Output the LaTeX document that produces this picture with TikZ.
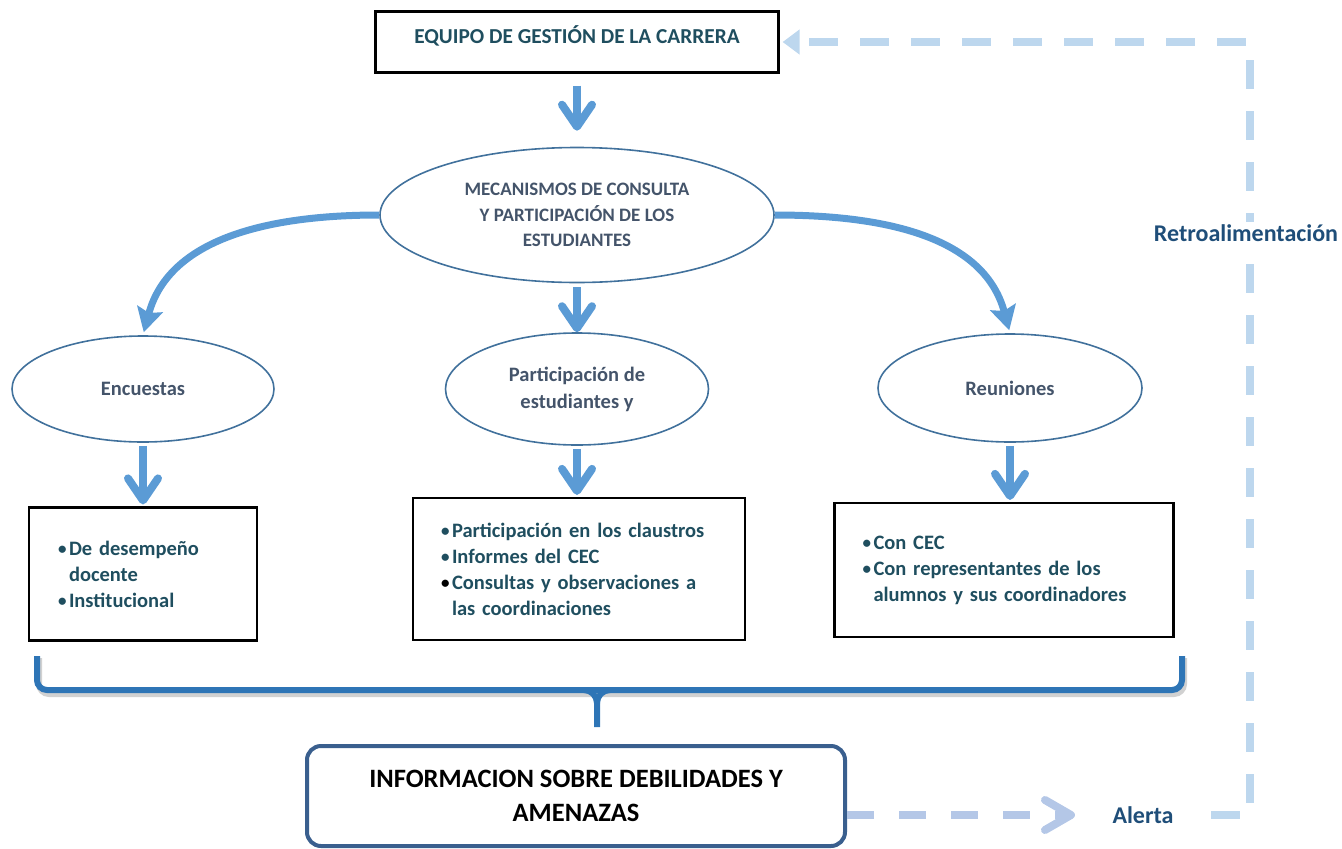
\documentclass[tikz,border=0pt]{standalone}
\usepackage{fontspec}
\setmainfont{Carlito}
\usetikzlibrary{arrows.meta,shapes.geometric}

\definecolor{flecha}{HTML}{5B9BD5}
\definecolor{borde}{HTML}{41719C}
\definecolor{llave}{HTML}{2E75B6}
\definecolor{marco}{HTML}{3A5F8E}
\definecolor{retro}{HTML}{BDD7EE}
\definecolor{aviso}{HTML}{B4C7E7}
\definecolor{tgris}{HTML}{44546A}
\definecolor{tverde}{HTML}{1F4E5F}
\definecolor{tazul}{HTML}{1F4E79}

\newcommand{\bul}{\makebox[9pt][l]{\hspace*{-2pt}\raisebox{0.8pt}{\fontsize{17}{17}\selectfont\textbullet}}}
\newcommand{\sangria}{\hspace*{9pt}}

\begin{document}
\begin{tikzpicture}[x=1pt,y=-1pt,
  caja/.style={draw, line width=2.2pt, text=tverde, align=left, font=\bfseries\fontsize{20.5}{26}\selectfont},
  elipse/.style={ellipse, draw=borde, line width=1.6pt, text=tgris, align=center, font=\bfseries\fontsize{20.5}{27}\selectfont},
  bajar/.style={draw=flecha, line width=8pt, -{Straight Barb[length=22pt,width=30pt,round]}},
  curva/.style={draw=flecha, line width=7pt, -{Stealth[length=24pt,width=26pt,inset=4pt]}},
  punteada/.style={draw=retro, line width=8pt, dash pattern=on 29pt off 22pt},
  etiqueta/.style={text=tazul, font=\bfseries\fontsize{24}{26}\selectfont}
]
\useasboundingbox (0,0) rectangle (1342,849);

\node[draw, line width=2.2pt, minimum width=403pt, minimum height=61pt, text depth=14pt,
  text=tverde, font=\bfseries\fontsize{21.3}{24}\selectfont] (gestion) at (577,42) {EQUIPO DE GESTIÓN DE LA CARRERA};

\node[elipse, minimum width=394pt, minimum height=135pt, font=\bfseries\fontsize{19}{25.5}\selectfont]
  (mecanismos) at (577,215) {MECANISMOS DE CONSULTA\\Y PARTICIPACIÓN DE LOS\\ESTUDIANTES};

\node[elipse, minimum width=262pt, minimum height=106pt] (encuestas) at (143,389) {Encuestas};
\node[elipse, minimum width=263pt, minimum height=112pt] (participacion) at (577,389) {Participación de\\estudiantes y};
\node[elipse, minimum width=264pt, minimum height=108pt] (reuniones) at (1010,388) {Reuniones};

\node[caja, text width=166pt, inner xsep=31pt, minimum height=133pt] (encbox) at (143,574) {%
  \mbox{\bul De desempeño}\\\mbox{\sangria docente}\\\mbox{\bul Institucional}};
\node[caja, text width=272pt, inner xsep=30pt, minimum height=142pt] (partbox) at (579,569) {%
  \mbox{\bul Participación en los claustros}\\\mbox{\bul Informes del CEC}\\
  \mbox{{\color{black}\bul}Consultas y observaciones a}\\\mbox{\sangria las coordinaciones}};
\node[caja, text width=279pt, inner xsep=30pt, minimum height=134pt] (reubox) at (1004,570) {%
  \mbox{\bul Con CEC}\\\mbox{\bul Con representantes de los}\\\mbox{\sangria alumnos y sus coordinadores}};

\draw[bajar, shorten <=12pt, shorten >=16pt] (gestion.south) -- (mecanismos.north);
\draw[bajar, shorten <=4pt] (mecanismos.south) -- (participacion.north);
\draw[curva, shorten >=3pt] (mecanismos.west) to[out=180, in=75] (encuestas.north);
\draw[curva, shorten >=3pt] (mecanismos.east) to[out=0, in=105] (reuniones.north);
\foreach \e/\c in {encuestas/encbox, participacion/partbox, reuniones/reubox} {
  \draw[bajar, shorten <=3pt, shorten >=2pt] (\e.south) -- (\e.south |- \c.north);
}

% llave
\draw[black!30, opacity=.6, line width=6pt, rounded corners=10pt] (39,658) -- (39,694) -- (1184,694) -- (1184,658);
\draw[llave, line width=6pt, rounded corners=10pt] (37,656) -- (37,690) -- (1182,690) -- (1182,656);
\draw[llave, line width=6pt] (584,690) to[out=0, in=90] (597,703) -- (597,727);
\draw[llave, line width=6pt] (610,690) to[out=180, in=90] (597,703);

\node[draw=marco, line width=4pt, rounded corners=14pt, minimum width=538pt, minimum height=100pt,
  align=center, font=\bfseries\fontsize{26.5}{34}\selectfont] (info) at (576,796)
  {INFORMACION SOBRE DEBILIDADES Y\\AMENAZAS};

\node[etiqueta] (alerta) at (1143,815) {Alerta};
\draw[draw=aviso, line width=8pt, dash pattern=on 27pt off 25pt, -{Straight Barb[length=26pt,width=30pt,round]}]
  (info.east |- alerta) -- ([xshift=-34pt]alerta.west);

\coordinate (esquina) at (1250,42);
\draw[punteada, -{Triangle[length=17pt,width=24pt]}, shorten >=3pt]
  ([xshift=34pt]alerta.east) -| (esquina) -- (gestion.east);
\node[etiqueta, fill=white, inner sep=2pt] (retroalim) at (1246,233) {Retroalimentación};
\end{tikzpicture}
\end{document}
